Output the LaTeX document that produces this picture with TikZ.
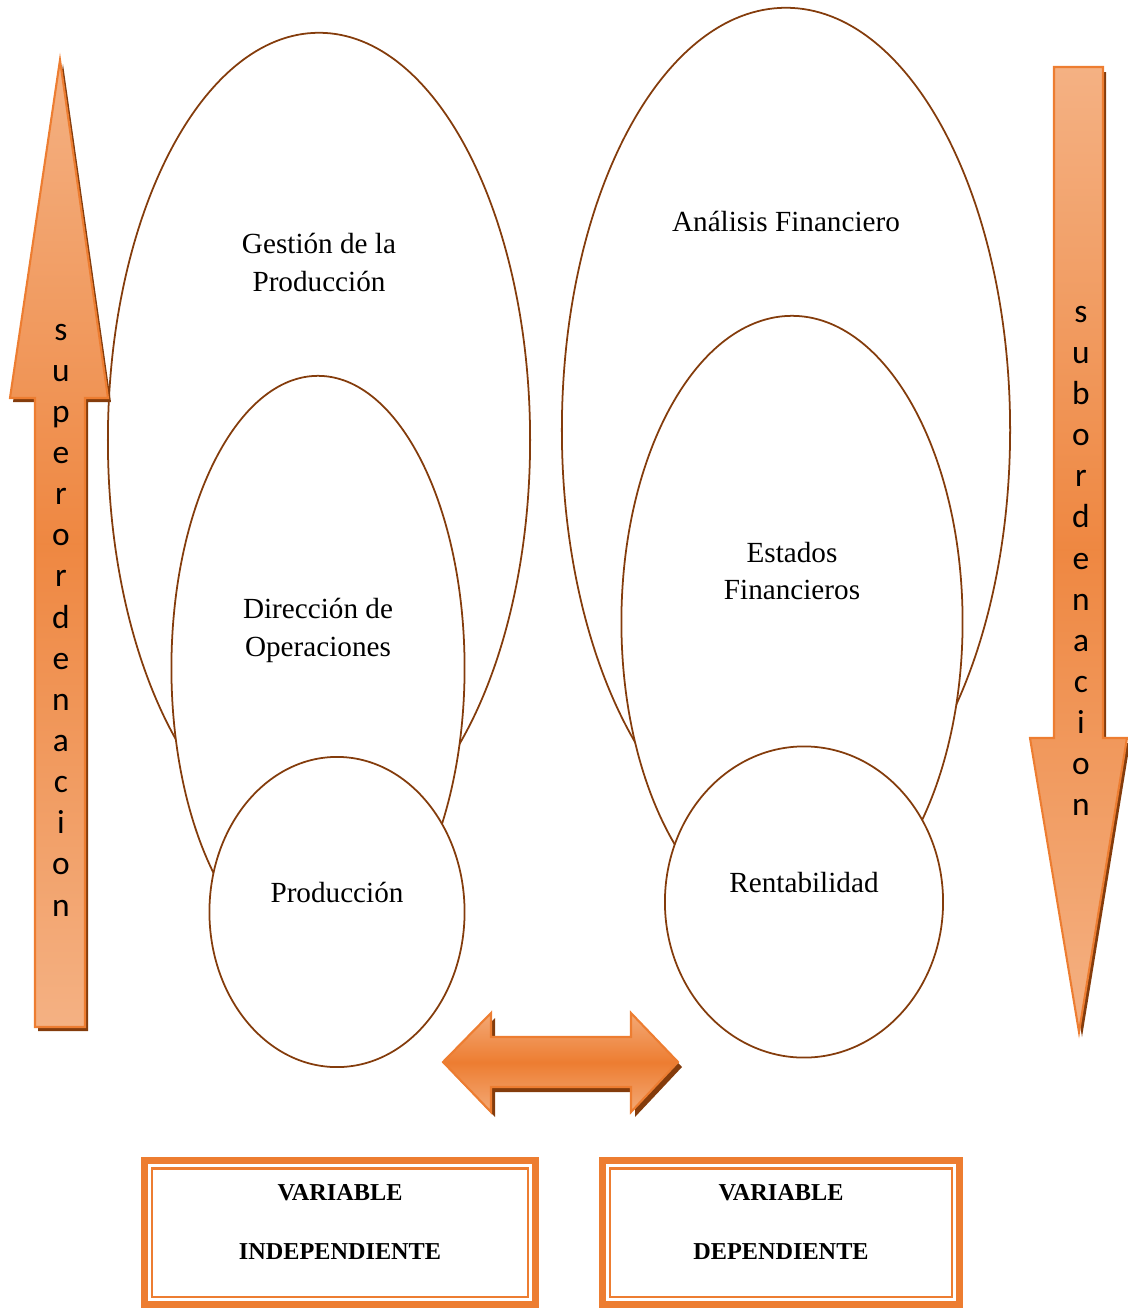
\documentclass[tikz,border=0pt]{standalone}
\usepackage{fontspec}
\setmainfont{Liberation Serif}
\newfontfamily\calib{Carlito}
\usetikzlibrary{calc,shapes.geometric}
\definecolor{brun}{RGB}{132,60,12}
\definecolor{orang}{RGB}{237,125,49}
\definecolor{peche}{RGB}{244,177,131}
\tikzset{
  elip/.style={ellipse, draw=brun, line width=0.5pt, fill=white, inner sep=0pt},
  lbl/.style={align=center, font=\fontsize{8.3}{10.8}\selectfont},
  flecha/.style={draw=orang, line width=0.6pt, top color=peche, bottom color=peche, middle color=orang!80!peche},
  flechah/.style={draw=orang, line width=0.6pt, top color=peche!85!orang, bottom color=peche!85!orang, middle color=orang},
  flechasombra/.style={fill=brun, draw=none},
  letras/.style={align=center, font=\calib\fontsize{9.5}{11.7}\selectfont},
  varbox/.style={rectangle, draw=orang, line width=0.065cm, inner sep=0pt, outer sep=0pt},
  varin/.style={draw=orang, line width=0.6pt},
  vartxt/.style={align=center, font=\bfseries\fontsize{6.9}{16.5}\selectfont},
}
\begin{document}
\begin{tikzpicture}[x=0.01cm,y=-0.01cm]
  \useasboundingbox (0,0) rectangle (1128,1308);

  % variable independiente
  \node[elip, minimum width=4.22cm, minimum height=8.14cm] (gest) at (319,440) {};
  \node[elip, minimum width=2.93cm, minimum height=5.84cm] (dir) at (318,668) {};
  \node[elip, minimum width=2.55cm, minimum height=3.10cm] (prod) at (337,912) {};
  \node[lbl] (tgest) at (319,262) {Gestión de la\\Producción};
  \node[lbl] (tdir) at (318,630) {Dirección de\\Operaciones};
  \node[lbl] (tprod) at (337,892) {Producción};

  % variable dependiente
  \node[elip, minimum width=4.48cm, minimum height=8.44cm] (anal) at (786,430) {};
  \node[elip, minimum width=3.41cm, minimum height=6.12cm] (est) at (792,622) {};
  \node[elip, minimum width=2.78cm, minimum height=3.11cm] (rent) at (804,902) {};
  \node[lbl] (tanal) at (786,221) {Análisis Financiero};
  \node[lbl] (test) at (792,571) {Estados\\Financieros};
  \node[lbl] (trent) at (804,883) {Rentabilidad};

  % flecha superordenacion
  \fill[flechasombra, shift={(3,4)}] (60,60) -- (108,398) -- (85,398) -- (85,1027) -- (35,1027) -- (35,398) -- (10,398) -- cycle;
  \path[flecha] (60,60) -- (108,398) -- (85,398) -- (85,1027) -- (35,1027) -- (35,398) -- (10,398) -- cycle;
  \node[letras] (sup) at (61,620) {s\\u\\p\\e\\r\\o\\r\\d\\e\\n\\a\\c\\i\\o\\n};

  % flecha subordenacion
  \fill[flechasombra, shift={(3,5)}] (1054,67) -- (1103,67) -- (1103,738) -- (1127,738) -- (1079,1032) -- (1030,738) -- (1054,738) -- cycle;
  \path[flecha] (1054,67) -- (1103,67) -- (1103,738) -- (1127,738) -- (1079,1032) -- (1030,738) -- (1054,738) -- cycle;
  \node[letras] (sub) at (1081,561) {s\\u\\b\\o\\r\\d\\e\\n\\a\\c\\i\\o\\n};

  % flecha doble
  \fill[flechasombra, shift={(4,5)}] (443,1062) -- (491,1013) -- (491,1037) -- (631,1037) -- (631,1013) -- (678,1062) -- (631,1112) -- (631,1087) -- (491,1087) -- (491,1112) -- cycle;
  \path[flechah] (443,1062) -- (491,1013) -- (491,1037) -- (631,1037) -- (631,1013) -- (678,1062) -- (631,1112) -- (631,1087) -- (491,1087) -- (491,1112) -- cycle;

  % cuadros
  \node[varbox, minimum width=3.91cm, minimum height=1.44cm] (vind) at (340,1232.5) {};
  \draw[varin] ($(vind.south west)+(8,-8)$) rectangle ($(vind.north east)+(-8,8)$);
  \node[vartxt] (tind) at (340,1222) {VARIABLE\\INDEPENDIENTE};

  \node[varbox, minimum width=3.57cm, minimum height=1.44cm] (vdep) at (781,1232.5) {};
  \draw[varin] ($(vdep.south west)+(8,-8)$) rectangle ($(vdep.north east)+(-8,8)$);
  \node[vartxt] (tdep) at (781,1222) {VARIABLE\\DEPENDIENTE};
\end{tikzpicture}
\end{document}
